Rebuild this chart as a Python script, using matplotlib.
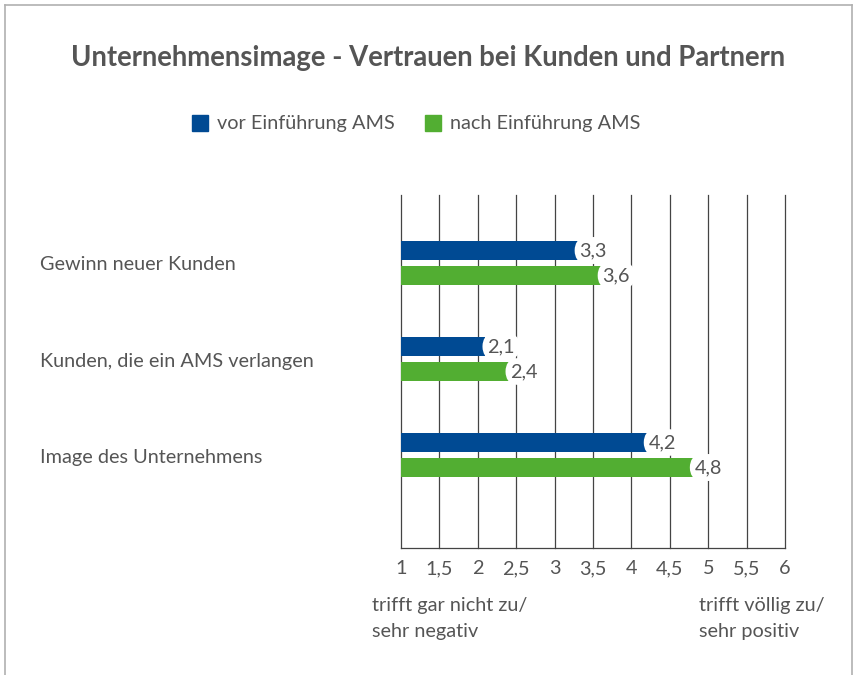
import numpy as np
import matplotlib
matplotlib.use('Agg')
from matplotlib import pyplot as plt
from matplotlib.patches import Rectangle

plt.rcParams['font.family'] = ['Lato', 'DejaVu Sans']

# data
categories = ['Gewinn neuer Kunden', 'Kunden, die ein AMS verlangen', 'Image des Unternehmens']
vor_ams = [3.3, 2.1, 4.2]
nach_ams = [3.6, 2.4, 4.8]
series_names = ['vor Einführung AMS', 'nach Einführung AMS']
x_ticks = [1, 1.5, 2, 2.5, 3, 3.5, 4, 4.5, 5, 5.5, 6]

blue = '#004a93'
green = '#52ae32'
txt = '#555555'
fs = 14.3

fig = plt.figure(figsize=(8.54, 6.75), dpi=100)
W, H = 854, 675

# outer frame (left, top, right)
fig.add_artist(plt.Line2D([5/W, 5/W], [0, 1 - 5/H], color='#b0b0b0', lw=1.2))
fig.add_artist(plt.Line2D([5/W, 852/W], [1 - 5/H, 1 - 5/H], color='#b0b0b0', lw=1.2))
fig.add_artist(plt.Line2D([852/W, 852/W], [0, 1 - 5/H], color='#b0b0b0', lw=1.2))

ax = fig.add_axes([401/W, 1 - 548/H, 384/W, 353/H])
y = np.arange(len(categories))
h = 19/96
off = 12.5/96
ax.barh(y - off, [v - 1 for v in vor_ams], left=1, height=h, color=blue, zorder=3)
ax.barh(y + off, [v - 1 for v in nach_ams], left=1, height=h, color=green, zorder=3)

def value_label(yy, v):
    # white round bubble that bites into the bar end
    ax.text(v + 0.025, yy, f'{v:.1f}'.replace('.', ','), ha='left', va='center',
            fontsize=fs, color=txt, zorder=4,
            bbox=dict(boxstyle='round,pad=0.25,rounding_size=0.7', fc='white', ec='none'))

for yy, v in zip(y - off, vor_ams):
    value_label(yy, v)
for yy, v in zip(y + off, nach_ams):
    value_label(yy, v)

ax.set_xlim(1, 6)
ax.set_ylim(2 + 93/96, -68/96)
ax.set_xticks(x_ticks)
ax.set_xticklabels([f'{t:g}'.replace('.', ',') for t in x_ticks], fontsize=fs, color=txt)
ax.tick_params(axis='x', length=0, pad=9)
ax.set_yticks([])
for t in x_ticks:
    ax.axvline(t, color='#444444', lw=0.9, zorder=1, clip_on=False)
for s in ['top', 'right', 'left']:
    ax.spines[s].set_visible(False)
ax.spines['bottom'].set_color('#444444')
ax.spines['bottom'].set_linewidth(0.9)

# category labels
for i, c in enumerate(categories):
    fig.text(40/W, 1 - (265 + 96*i)/H, c, ha='left', va='center', fontsize=fs, color=txt)

# title
fig.text(428/W, 1 - 58/H, 'Unternehmensimage - Vertrauen bei Kunden und Partnern',
         ha='center', va='center', fontsize=19.8, fontweight='bold', color='#555555')

# legend
fig.add_artist(Rectangle((192/W, 1 - 131/H), 16/W, 16/H, color=blue, transform=fig.transFigure))
fig.text(217/W, 1 - 124/H, series_names[0], ha='left', va='center', fontsize=fs, color=txt)
fig.add_artist(Rectangle((425/W, 1 - 131/H), 16/W, 16/H, color=green, transform=fig.transFigure))
fig.text(450/W, 1 - 124/H, series_names[1], ha='left', va='center', fontsize=fs, color=txt)

# scale annotations
fig.text(372/W, 1 - 605/H, 'trifft gar nicht zu/', ha='left', va='center', fontsize=fs, color=txt)
fig.text(372/W, 1 - 631/H, 'sehr negativ', ha='left', va='center', fontsize=fs, color=txt)
fig.text(699/W, 1 - 605/H, 'trifft völlig zu/', ha='left', va='center', fontsize=fs, color=txt)
fig.text(699/W, 1 - 631/H, 'sehr positiv', ha='left', va='center', fontsize=fs, color=txt)

fig.savefig('out.png', dpi=100)
